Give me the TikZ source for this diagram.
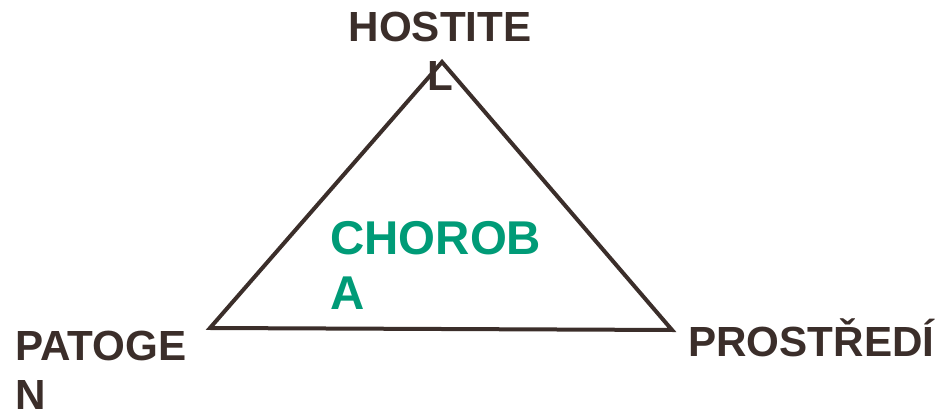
\documentclass[tikz,border=0pt]{standalone}
\usepackage{fontspec}
\setmainfont{Liberation Sans}
\usepackage{tikz}
\usetikzlibrary{positioning}
\definecolor{labeltext}{RGB}{59,46,42}
\definecolor{diseasegreen}{RGB}{0,155,119}

\begin{document}
\begin{tikzpicture}[
  x=0.02cm, y=-0.02cm,
  edge/.style={draw=labeltext, line width=0.08cm, line join=miter},
  cornerlabel/.style={text=labeltext, font=\bfseries\fontsize{24}{28}\selectfont,
                      inner sep=0pt, align=left},
  centerlabel/.style={text=diseasegreen, font=\bfseries\fontsize{27}{31.3}\selectfont,
                      inner sep=0pt, align=left},
]
\useasboundingbox (0,0) rectangle (939,411);

% =================================================================
% TRIANGLE
% =================================================================
\coordinate (top) at (442,62);
\coordinate (left) at (210,328);
\coordinate (right) at (672,330);
\draw[edge] (left) -- (top) -- (right) -- cycle;

% =================================================================
% LABELS
% =================================================================
\node[cornerlabel, align=center, anchor=north] (hostitel) at (440,12) {HOSTITE\\L};
\node[cornerlabel, anchor=north west] (patogen) at (15,331) {PATOGE\\N};
\node[cornerlabel, anchor=base west] (prostredi) at (688,357) {PROSTŘEDÍ};
\node[centerlabel, anchor=north west] (choroba) at (330,221) {CHOROB\\A};

\end{tikzpicture}
\end{document}
